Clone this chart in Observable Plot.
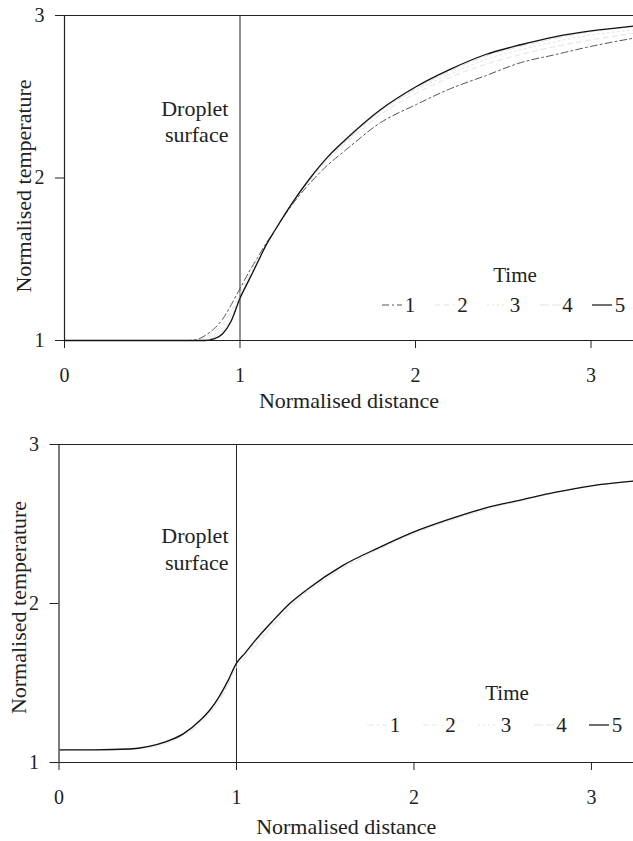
<!DOCTYPE html>
<html><head><meta charset="utf-8">
<script src="https://cdn.jsdelivr.net/npm/d3@7"></script>
<script src="https://cdn.jsdelivr.net/npm/@observablehq/plot@0.6"></script>
<style>
body{margin:0;background:#fff;}
#wrap{position:relative;width:633px;height:841px;font-family:'Liberation Serif','Times New Roman',serif;color:#222;overflow:hidden;}
.panel{position:absolute;left:0;}
.leg{position:absolute;font-size:21px;line-height:1;white-space:nowrap;}
g[aria-label="x-axis label"], g[aria-label="y-axis label"]{font-size:22px;}
</style></head><body><div id="wrap"></div>
<script>
// ---- data ----
const times = [1, 2, 3, 4, 5];
const xTicks = [0, 1, 2, 3];
const yTicks = [1, 2, 3];
const surfaceLabel = "Droplet\nsurface";
const legendTitle = "Time";
const xLabel = "Normalised distance";
const yLabel = "Normalised temperature";

// top panel
const distTop = [0, 0.4, 0.7, 0.75, 0.8, 0.85, 0.9, 0.95, 1.0, 1.05, 1.1, 1.15, 1.2, 1.3, 1.4, 1.5, 1.6, 1.8, 2.0, 2.2, 2.4, 2.6, 2.8, 3.0, 3.24];
const top1 = [1, 1, 1, 1.005, 1.03, 1.07, 1.13, 1.22, 1.32, 1.42, 1.51, 1.60, 1.68, 1.84, 1.97, 2.08, 2.17, 2.34, 2.45, 2.55, 2.63, 2.71, 2.76, 2.81, 2.86];
const top2 = [1, 1, 1, 1, 1.02, 1.05, 1.10, 1.18, 1.29, 1.40, 1.50, 1.59, 1.68, 1.85, 1.99, 2.11, 2.21, 2.39, 2.52, 2.62, 2.70, 2.76, 2.81, 2.85, 2.89];
const top3 = [1, 1, 1, 1, 1.01, 1.035, 1.08, 1.15, 1.27, 1.38, 1.49, 1.59, 1.68, 1.85, 2.00, 2.12, 2.22, 2.41, 2.54, 2.64, 2.73, 2.79, 2.84, 2.88, 2.91];
const top4 = [1, 1, 1, 1, 1, 1.02, 1.06, 1.13, 1.26, 1.37, 1.48, 1.59, 1.68, 1.85, 2.00, 2.12, 2.225, 2.415, 2.55, 2.66, 2.75, 2.81, 2.86, 2.90, 2.93];
const top5 = [1, 1, 1, 1, 1, 1.01, 1.04, 1.12, 1.26, 1.37, 1.48, 1.59, 1.68, 1.85, 2.00, 2.13, 2.235, 2.42, 2.56, 2.67, 2.76, 2.82, 2.87, 2.905, 2.935];

// bottom panel
const distBot = [0, 0.2, 0.4, 0.5, 0.6, 0.7, 0.8, 0.85, 0.9, 0.95, 1.0, 1.05, 1.1, 1.2, 1.3, 1.4, 1.6, 1.8, 2.0, 2.2, 2.4, 2.6, 2.8, 3.0, 3.24];
const bot1 = [1.08, 1.08, 1.085, 1.095, 1.12, 1.17, 1.25, 1.31, 1.38, 1.48, 1.60, 1.66, 1.72, 1.85, 1.97, 2.07, 2.22, 2.34, 2.44, 2.52, 2.59, 2.645, 2.70, 2.74, 2.77];
const bot2 = [1.08, 1.08, 1.085, 1.097, 1.125, 1.175, 1.26, 1.32, 1.39, 1.49, 1.61, 1.67, 1.73, 1.86, 1.98, 2.08, 2.23, 2.345, 2.445, 2.525, 2.595, 2.65, 2.70, 2.74, 2.77];
const bot3 = [1.08, 1.08, 1.085, 1.098, 1.127, 1.177, 1.265, 1.325, 1.40, 1.50, 1.62, 1.685, 1.745, 1.875, 1.99, 2.085, 2.235, 2.35, 2.45, 2.53, 2.60, 2.65, 2.70, 2.74, 2.77];
const bot4 = [1.08, 1.08, 1.085, 1.10, 1.13, 1.18, 1.27, 1.33, 1.41, 1.51, 1.625, 1.69, 1.76, 1.885, 2.00, 2.09, 2.24, 2.35, 2.45, 2.53, 2.60, 2.65, 2.70, 2.74, 2.77];
const bot5 = [1.08, 1.08, 1.085, 1.10, 1.13, 1.18, 1.27, 1.33, 1.41, 1.51, 1.625, 1.69, 1.76, 1.885, 2.00, 2.09, 2.24, 2.35, 2.45, 2.53, 2.60, 2.65, 2.70, 2.74, 2.77];

// ---- styles (as they survive in the printed figure) ----
const topStroke = ["#555", "#e2e2e2", "#e2e2e2", "#e2e2e2", "#111"];
const topDash = ["7,3,2,3", "5,4", "2,3", "9,3", null];
const botStroke = ["#e6e6e6", "#e6e6e6", "#e6e6e6", "#e6e6e6", "#111"];
const botDash = ["7,3,2,3", "5,4", "2,3", "9,3", null];

function panel({dist, series, strokes, dashes, height, marginTop, marginBottom, marginLeft, xmax, labelX, labelY, xLabelOffset, yLabelShift}) {
  const marks = [
    Plot.ruleY([1, 3], {stroke: "#222", strokeWidth: 1.2}),
    Plot.ruleX([0], {stroke: "#222", strokeWidth: 1.2}),
    Plot.ruleX([1], {stroke: "#222", strokeWidth: 1})
  ];
  series.forEach((vals, i) => {
    const rows = vals.map((v, j) => ({x: dist[j], y: v, t: times[i]}));
    marks.push(Plot.line(rows, {x: "x", y: "y", stroke: strokes[i], strokeWidth: i === 4 ? 1.3 : 1,
      strokeDasharray: dashes[i] || undefined, curve: "monotone-x"}));
  });
  marks.push(Plot.text([surfaceLabel], {x: labelX, y: labelY, text: d => d, textAnchor: "end",
    lineAnchor: "middle", fontSize: 22, lineHeight: 1.2, fill: "#222"}));
  const svg = Plot.plot({
    width: 633, height, marginTop, marginBottom, marginLeft, marginRight: 0,
    style: {fontFamily: "'Liberation Serif','Times New Roman',serif", fontSize: "20px", color: "#222", background: "white", overflow: "visible"},
    x: {domain: [0, xmax], ticks: xTicks, tickFormat: d => String(d), tickSize: 8, tickPadding: 19,
        label: xLabel, labelAnchor: "center", labelOffset: xLabelOffset, labelArrow: "none"},
    y: {domain: [1, 3], ticks: yTicks, tickFormat: d => String(d), tickSize: 9, tickPadding: 11,
        label: yLabel, labelAnchor: "center", labelOffset: 49, labelArrow: "none"},
    marks
  });
  d3.select(svg).selectAll('g[aria-label$="axis label"] text').each(function () {
    this.textContent = this.textContent.replace(/[→↑←↓]/g, "").trim();
  });
  d3.select(svg).selectAll('g[aria-label="y-axis label"]').each(function () {
    const tr = this.getAttribute("transform") || "";
    this.setAttribute("transform", `translate(0,${yLabelShift}) ${tr}`);
  });
  return svg;
}

const wrap = document.getElementById("wrap");

function addPanel(svg, top) {
  svg.classList.add("panel");
  svg.style.top = top + "px";
  wrap.appendChild(svg);
}

function addLegend(originY, titleX, titleY, firstX, stepX, numY, strokes, dashes) {
  const t = document.createElement("div");
  t.className = "leg";
  t.textContent = legendTitle;
  t.style.left = titleX + "px";
  t.style.top = (originY + titleY) + "px";
  t.style.transform = "translate(-50%,-50%)";
  wrap.appendChild(t);
  times.forEach((tm, i) => {
    const cx = firstX + i * stepX;
    const n = document.createElement("div");
    n.className = "leg";
    n.textContent = String(tm);
    n.style.left = cx + "px";
    n.style.top = (originY + numY) + "px";
    n.style.transform = "translate(-50%,-50%)";
    wrap.appendChild(n);
    const sw = d3.create("svg").attr("width", 20).attr("height", 6)
      .style("position", "absolute").style("left", (cx - 28) + "px").style("top", (originY + numY - 3) + "px");
    sw.append("line").attr("x1", 0).attr("x2", 20).attr("y1", 3).attr("y2", 3)
      .attr("stroke", strokes[i]).attr("stroke-width", 1.2)
      .attr("stroke-dasharray", dashes[i] || null);
    wrap.appendChild(sw.node());
  });
}

addPanel(panel({dist: distTop, series: [top1, top2, top3, top4, top5], strokes: topStroke, dashes: topDash,
  height: 420, marginTop: 15, marginBottom: 80, marginLeft: 64, xmax: 3.242, labelX: 0.934, labelY: 2.354, xLabelOffset: 67, yLabelShift: 8}), 0);
addPanel(panel({dist: distBot, series: [bot1, bot2, bot3, bot4, bot5], strokes: botStroke, dashes: botDash,
  height: 421, marginTop: 24, marginBottom: 79, marginLeft: 58.5, xmax: 3.237, labelX: 0.955, labelY: 2.348, xLabelOffset: 71, yLabelShift: 4}), 420);

addLegend(0, 515, 275, 410, 52.5, 305, topStroke, topDash);
addLegend(420, 507, 273, 395, 55.5, 305, botStroke, botDash);
</script></body></html>
